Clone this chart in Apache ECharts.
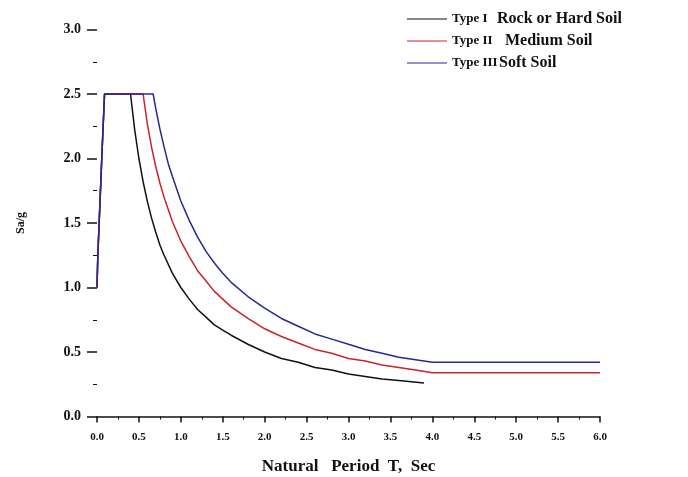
<!DOCTYPE html>
<html>
<head>
<meta charset="utf-8">
<script src="https://cdn.jsdelivr.net/npm/echarts@6/dist/echarts.min.js"></script>
<style>
  html, body { margin: 0; padding: 0; background: #fff; }
  #chart { width: 688px; height: 477px; }
</style>
</head>
<body>
<div id="chart"></div>
<script>
// values: [period T (s), Sa/g]
var typeI = [[0, 1.0], [0.01, 1.25], [0.06, 2.05], [0.09, 2.5], [0.4, 2.5], [0.45, 2.22], [0.5, 2.0],
  [0.55, 1.82], [0.6, 1.67], [0.65, 1.54], [0.7, 1.43], [0.75, 1.33], [0.8, 1.25], [0.9, 1.11],
  [1.0, 1.0], [1.1, 0.91], [1.2, 0.83], [1.3, 0.77], [1.4, 0.71], [1.5, 0.67], [1.6, 0.63],
  [1.8, 0.56], [2.0, 0.5], [2.2, 0.45], [2.4, 0.42], [2.6, 0.38], [2.8, 0.36], [3.0, 0.33],
  [3.2, 0.31], [3.4, 0.29], [3.6, 0.28], [3.9, 0.26]];
var typeII = [[0, 1.0], [0.01, 1.25], [0.06, 2.05], [0.09, 2.5], [0.55, 2.5], [0.6, 2.27], [0.65, 2.09],
  [0.7, 1.94], [0.75, 1.81], [0.8, 1.7], [0.9, 1.51], [1.0, 1.36], [1.1, 1.24], [1.2, 1.13],
  [1.3, 1.05], [1.4, 0.97], [1.5, 0.91], [1.6, 0.85], [1.8, 0.76], [2.0, 0.68], [2.2, 0.62],
  [2.4, 0.57], [2.6, 0.52], [2.8, 0.49], [3.0, 0.45], [3.2, 0.43], [3.4, 0.4], [3.6, 0.38],
  [3.8, 0.36], [4.0, 0.34], [6.0, 0.34]];
var typeIII = [[0, 1.0], [0.01, 1.25], [0.06, 2.05], [0.09, 2.5], [0.67, 2.5], [0.7, 2.39], [0.75, 2.23],
  [0.8, 2.09], [0.85, 1.96], [0.9, 1.86], [1.0, 1.67], [1.1, 1.52], [1.2, 1.39], [1.3, 1.28],
  [1.4, 1.19], [1.5, 1.11], [1.6, 1.04], [1.8, 0.93], [2.0, 0.84], [2.2, 0.76], [2.4, 0.7],
  [2.6, 0.64], [2.8, 0.6], [3.0, 0.56], [3.2, 0.52], [3.4, 0.49], [3.6, 0.46], [3.8, 0.44],
  [4.0, 0.42], [6.0, 0.42]];
var typeLabels = ['Type I', 'Type II', 'Type III'];
var soilLabels = ['Rock or Hard Soil', 'Medium Soil', 'Soft Soil'];
var seriesColors = ['#111111', '#c8242a', '#26279a'];

var font = '"Liberation Serif", "DejaVu Serif", serif';
var chart = echarts.init(document.getElementById('chart'));

function line(i, data) {
  return {
    name: typeLabels[i],
    type: 'line',
    data: data,
    symbol: 'none',
    lineStyle: { color: seriesColors[i], width: 1.5 },
    itemStyle: { color: seriesColors[i] }
  };
}

chart.setOption({
  animation: false,
  grid: { left: 97, right: 88, top: 29.5, bottom: 60.5, outerBoundsMode: 'none' },
  legend: {
    orient: 'vertical',
    left: 402,
    top: 6,
    itemWidth: 40,
    itemHeight: 12,
    itemGap: 6,
    icon: 'path://M0,5.5 L40,5.5 L40,6.5 L0,6.5 Z',
    data: typeLabels,
    formatter: function (name) {
      var i = typeLabels.indexOf(name);
      return '{t' + i + '|' + name + '}{s|' + soilLabels[i] + '}';
    },
    textStyle: {
      fontFamily: font, fontWeight: 'bold', color: '#111',
      rich: {
        t0: { fontFamily: font, fontWeight: 'bold', fontSize: 13, width: 45, color: '#111' },
        t1: { fontFamily: font, fontWeight: 'bold', fontSize: 13, width: 53, color: '#111' },
        t2: { fontFamily: font, fontWeight: 'bold', fontSize: 13, width: 47, color: '#111' },
        s: { fontFamily: font, fontWeight: 'bold', fontSize: 16, color: '#111' }
      }
    }
  },
  xAxis: {
    type: 'value',
    min: 0, max: 6, interval: 0.5,
    name: 'Natural   Period  T,  Sec',
    nameLocation: 'middle',
    nameGap: 42,
    nameTextStyle: { fontFamily: font, fontWeight: 'bold', fontSize: 17, color: '#111' },
    axisLine: { show: true, lineStyle: { color: '#111', width: 1.5 } },
    axisTick: { show: true, length: 6, lineStyle: { color: '#111', width: 1.5 } },
    minorTick: { show: true, splitNumber: 2, length: 3, lineStyle: { color: '#111' } },
    axisLabel: { fontFamily: font, fontWeight: 'bold', fontSize: 11, color: '#111', margin: 15,
      formatter: function (v) { return v.toFixed(1); } },
    splitLine: { show: false }
  },
  yAxis: {
    type: 'value',
    min: 0, max: 3, interval: 0.5,
    name: 'Sa/g',
    nameLocation: 'middle',
    nameGap: 70,
    nameTextStyle: { fontFamily: font, fontWeight: 'bold', fontSize: 12, color: '#111' },
    axisLine: { show: false },
    axisTick: { show: true, length: 10, lineStyle: { color: '#111', width: 1.5 } },
    minorTick: { show: true, splitNumber: 2, length: 4, lineStyle: { color: '#111' } },
    axisLabel: { fontFamily: font, fontWeight: 'bold', fontSize: 14, color: '#111', margin: 16,
      formatter: function (v) { return v.toFixed(1); } },
    splitLine: { show: false }
  },
  series: [line(0, typeI), line(1, typeII), line(2, typeIII)]
});
</script>
</body>
</html>
